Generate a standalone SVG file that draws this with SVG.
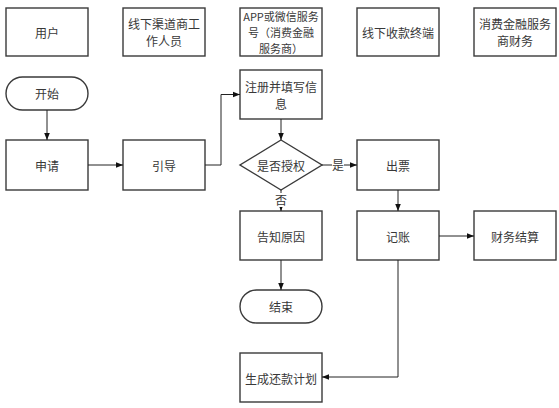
<svg xmlns="http://www.w3.org/2000/svg" width="559" height="408" viewBox="0 0 559 408">
<style>
.box{fill:#fff;stroke:#3a3a3a;stroke-width:1.4}
.t{font-family:"Noto Sans CJK SC","Liberation Serif",sans-serif;font-size:12px;fill:#383838;text-anchor:middle;dominant-baseline:central}
.s{font-size:11px}
.c{fill:none;stroke:#222;stroke-width:1}
</style>
<defs>
<marker id="ah" viewBox="0 0 10 10" refX="10" refY="5" markerWidth="7" markerHeight="7" markerUnits="userSpaceOnUse" orient="auto">
<path d="M0,1 L10,5 L0,9 z" fill="#111"/>
</marker>
</defs>
<rect width="559" height="408" fill="#fff"/>
<g id="h1"><rect class="box" x="6" y="8" width="82" height="48"/><text class="t" x="47" y="32">用户</text></g>
<g id="h2"><rect class="box" x="123" y="8" width="82" height="48"/><text class="t" x="164" y="23.5">线下渠道商工</text><text class="t" x="164" y="40.5">作人员</text></g>
<g id="h3"><rect class="box" x="240" y="8" width="82" height="48"/><text class="t s" x="281" y="16">APP或微信服务</text><text class="t s" x="281" y="32">号（消费金融</text><text class="t s" x="281" y="48">服务商）</text></g>
<g id="h4"><rect class="box" x="357" y="8" width="82" height="48"/><text class="t" x="398" y="32">线下收款终端</text></g>
<g id="h5"><rect class="box" x="474" y="8" width="82" height="48"/><text class="t" x="515" y="23.5">消费金融服务</text><text class="t" x="515" y="40.5">商财务</text></g>

<g id="start"><rect class="box" x="6" y="77" width="82" height="33" rx="16.5"/><text class="t" x="47" y="93.5">开始</text></g>
<g id="apply"><rect class="box" x="6" y="140" width="82" height="50"/><text class="t" x="47" y="165">申请</text></g>
<g id="guide"><rect class="box" x="123" y="140" width="82" height="50"/><text class="t" x="164" y="165">引导</text></g>
<g id="register"><rect class="box" x="240" y="70" width="82" height="49"/><text class="t" x="281" y="86">注册并填写信</text><text class="t" x="281" y="103">息</text></g>
<g id="auth"><path class="box" d="M281,140 L322,165 L281,190 L240,165 Z"/><text class="t" x="281" y="165">是否授权</text></g>
<g id="ticket"><rect class="box" x="357" y="140" width="82" height="50"/><text class="t" x="398" y="165">出票</text></g>
<g id="reason"><rect class="box" x="240" y="211" width="82" height="49"/><text class="t" x="281" y="236">告知原因</text></g>
<g id="account"><rect class="box" x="357" y="211" width="82" height="49"/><text class="t" x="398" y="236">记账</text></g>
<g id="settle"><rect class="box" x="474" y="211" width="82" height="49"/><text class="t" x="515" y="236">财务结算</text></g>
<g id="end"><rect class="box" x="240" y="290" width="82" height="33" rx="16.5"/><text class="t" x="281" y="306.5">结束</text></g>
<g id="plan"><rect class="box" x="240" y="353" width="82" height="49"/><text class="t" x="281" y="378">生成还款计划</text></g>

<g id="connectors">
<path class="c" d="M47,110 V140" marker-end="url(#ah)"/>
<path class="c" d="M88,165 H123" marker-end="url(#ah)"/>
<path class="c" d="M205,165 H221 V94.5 H240" marker-end="url(#ah)"/>
<path class="c" d="M281,119 V140" marker-end="url(#ah)"/>
<path class="c" d="M322,165 H357" marker-end="url(#ah)"/>
<path class="c" d="M281,190 V211" marker-end="url(#ah)"/>
<path class="c" d="M398,190 V211" marker-end="url(#ah)"/>
<path class="c" d="M439,236 H474" marker-end="url(#ah)"/>
<path class="c" d="M281,260 V290" marker-end="url(#ah)"/>
<path class="c" d="M398,260 V377 H322" marker-end="url(#ah)"/>
<rect x="332" y="157" width="12" height="15" fill="#fff"/>
<text class="t" x="338" y="164.5">是</text>
<rect x="275" y="193" width="12" height="14" fill="#fff"/>
<text class="t" x="281" y="199.5">否</text>
</g>
</svg>
